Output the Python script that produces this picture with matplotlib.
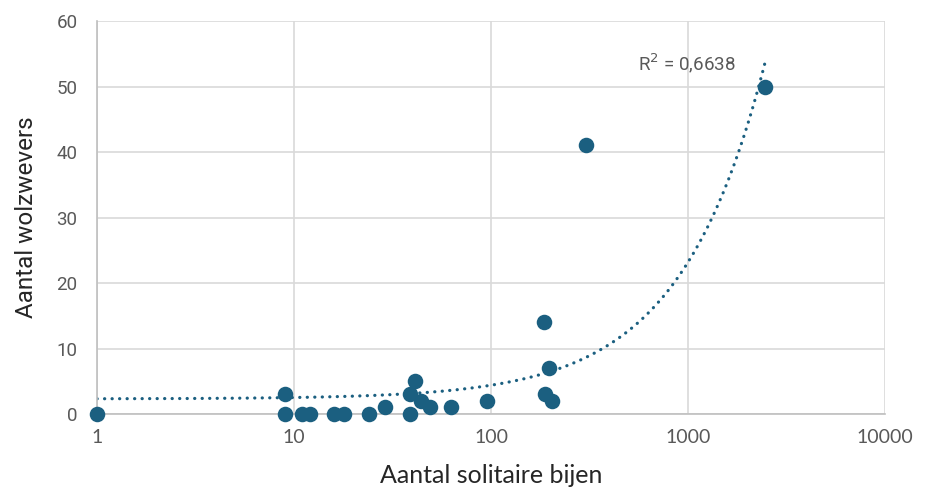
import numpy as np
import matplotlib
matplotlib.use("Agg")
import matplotlib.pyplot as plt
from matplotlib.ticker import FixedLocator, FixedFormatter

# Data
solitaire_bijen = [1, 9, 9, 11, 12, 16, 18, 24, 29, 39, 39, 41, 44, 49, 63, 95,
                   186, 188, 197, 204, 303, 2460]
wolzwevers = [0, 0, 3, 0, 0, 0, 0, 0, 1, 0, 3, 5, 2, 1, 1, 2,
              14, 3, 7, 2, 41, 50]
x_ticks = [1, 10, 100, 1000, 10000]
x_tick_labels = ["1", "10", "100", "1000", "10000"]
y_ticks = [0, 10, 20, 30, 40, 50, 60]
r2_label = "R$^2$ = 0,6638"

color = "#1b5f80"
grid_c = "#d9d9d9"
text_c = "#595959"

fig = plt.figure(figsize=(9.26, 4.91), dpi=100)
ax = fig.add_axes([0.1048, 0.1568, 0.8509, 0.8004])

x = np.array(solitaire_bijen, dtype=float)
y = np.array(wolzwevers, dtype=float)

# Linear trend line (as in Excel), drawn on the log x axis
slope, intercept = np.polyfit(x, y, 1)
xs = np.logspace(0, np.log10(x.max()), 400)
ax.plot(xs, slope * xs + intercept, color=color, lw=2.3,
        linestyle=(0, (0.05, 2.3)), dash_capstyle="round", zorder=2)

ax.scatter(x, y, s=125, color=color, zorder=3, linewidths=0, clip_on=False)

ax.set_xscale("log")
ax.set_xlim(1, 10000)
ax.set_ylim(0, 60)
ax.xaxis.set_major_locator(FixedLocator(x_ticks))
ax.xaxis.set_major_formatter(FixedFormatter(x_tick_labels))
ax.xaxis.set_minor_locator(FixedLocator([]))
ax.set_yticks(y_ticks)

ax.grid(True, color=grid_c, lw=1.2)
ax.set_axisbelow(True)
for s in ["top", "right"]:
    ax.spines[s].set_visible(False)
for s in ["left", "bottom"]:
    ax.spines[s].set_color("#bfbfbf")
    ax.spines[s].set_linewidth(1.2)
ax.tick_params(axis="y", length=0, pad=14, colors=text_c)
ax.tick_params(axis="x", length=0, pad=11, colors=text_c)
for lab in ax.get_yticklabels():
    lab.set_fontfamily("Roboto")
    lab.set_fontsize(13.5)
for lab in ax.get_xticklabels():
    lab.set_fontfamily("Lato")
    lab.set_fontsize(14)

ax.set_xlabel("Aantal solitaire bijen", fontsize=18, fontfamily="Lato",
              color="#262626", labelpad=13)
ax.set_ylabel("Aantal wolzwevers", fontsize=17.5, fontfamily="Roboto",
              color="#262626", labelpad=13)

ax.text(990, 53.5, r2_label, fontsize=13.5, fontfamily="Roboto", color=text_c,
        ha="center", va="center")

fig.savefig("out.png", dpi=100)
